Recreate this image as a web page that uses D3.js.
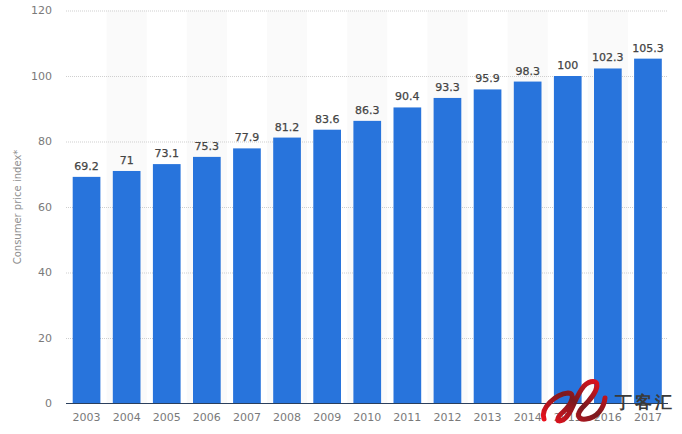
<!DOCTYPE html>
<html><head><meta charset="utf-8">
<script src="https://cdn.jsdelivr.net/npm/d3@7/dist/d3.min.js"></script>
<style>html,body{margin:0;padding:0;background:#fff}svg{display:block}
text{font-family:"DejaVu Sans",sans-serif}</style></head>
<body><svg id="c" width="682" height="434"></svg>
<script>
const years=["2003","2004","2005","2006","2007","2008","2009","2010","2011","2012","2013","2014","2015","2016","2017"];
const values=[69.2,71,73.1,75.3,77.9,81.2,83.6,86.3,90.4,93.3,95.9,98.3,100,102.3,105.3];
const valueLabels=["69.2","71","73.1","75.3","77.9","81.2","83.6","86.3","90.4","93.3","95.9","98.3","100","102.3","105.3"];
const yTicks=[0,20,40,60,80,100,120];
const yTitle="Consumer price index*";
const brand="丁客汇";

const svg=d3.select("#c");
const x=d3.scaleBand().domain(years).range([66.5,668]).paddingInner(0).paddingOuter(0);
const barPad=6.2;
const y=d3.scaleLinear().domain([0,120]).range([403.5,10.5]);

svg.append("g").selectAll("rect").data(years.filter((d,i)=>i%2==1)).join("rect")
 .attr("x",d=>x(d)).attr("width",x.bandwidth()).attr("y",y(120)).attr("height",y(0)-y(120)).attr("fill","#fafafa");

const gy=svg.append("g").attr("transform","translate(66,0)")
 .call(d3.axisLeft(y).tickValues(yTicks).tickSize(0).tickPadding(14));
gy.select(".domain").remove();
gy.selectAll("text").attr("font-size",11).attr("fill","#7a7a7a").attr("dy","0.3em");
gy.selectAll("line").attr("x1",0).attr("x2",601.5).attr("stroke","#cfcfcf").attr("stroke-width",1).attr("stroke-dasharray","1 1")
 .attr("display",d=>d===0?"none":null);

svg.append("g").selectAll("rect").data(years).join("rect")
 .attr("x",d=>x(d)+barPad).attr("width",x.bandwidth()-2*barPad)
 .attr("y",(d,i)=>y(values[i])).attr("height",(d,i)=>y(0)-y(values[i])).attr("fill","#2874dc");

svg.append("line").attr("x1",66).attr("x2",668).attr("y1",y(0)).attr("y2",y(0)).attr("stroke","#2b3f5c").attr("stroke-width",1.2);

svg.append("g").selectAll("text").data(years).join("text")
 .attr("x",(d,i)=>x(d)+x.bandwidth()/2).attr("y",(d,i)=>y(values[i])-7)
 .attr("text-anchor","middle").attr("font-size",11).attr("fill","#444").attr("font-weight",500)
 .attr("stroke","#444").attr("stroke-width",0.25)
 .text((d,i)=>valueLabels[i]);

const gx=svg.append("g").attr("transform","translate(0,403)")
 .call(d3.axisBottom(x).tickSize(0).tickPadding(10));
gx.select(".domain").remove();
gx.selectAll("text").attr("font-size",11).attr("fill","#7a7a7a");

svg.append("text").attr("transform","translate(20.5,207) rotate(-90)").attr("text-anchor","middle")
 .attr("font-size",10).attr("fill","#8f8f8f").text(yTitle);

// watermark overlay
const defs=svg.append("defs");
const g=defs.append("linearGradient").attr("id","wm").attr("x1",0).attr("x2",1).attr("y1",1).attr("y2",0);
g.append("stop").attr("offset","0").attr("stop-color","#ee101c");
g.append("stop").attr("offset","0.5").attr("stop-color","#7a1a20");
g.append("stop").attr("offset","1").attr("stop-color","#e8101c");
svg.append("path").attr("fill","none").attr("stroke","url(#wm)").attr("stroke-width",5).attr("stroke-linecap","round").attr("stroke-linejoin","round")
 .attr("d","M544 419 C540 408 556 394 568 393 C576 393 572 404 563 412 C556 418 556 423 563 420 C572 415 574 398 584 386 C590 380 598 380 597 386 C596 394 588 402 582 408 C576 415 578 420 586 419 C597 418 604 408 605 398");
svg.append("text").attr("x",615).attr("y",408).attr("font-family","'Noto Sans CJK SC'").attr("font-size",17).attr("letter-spacing",3).attr("font-weight",700).attr("fill","#3a3a3a").text(brand);
</script></body></html>
